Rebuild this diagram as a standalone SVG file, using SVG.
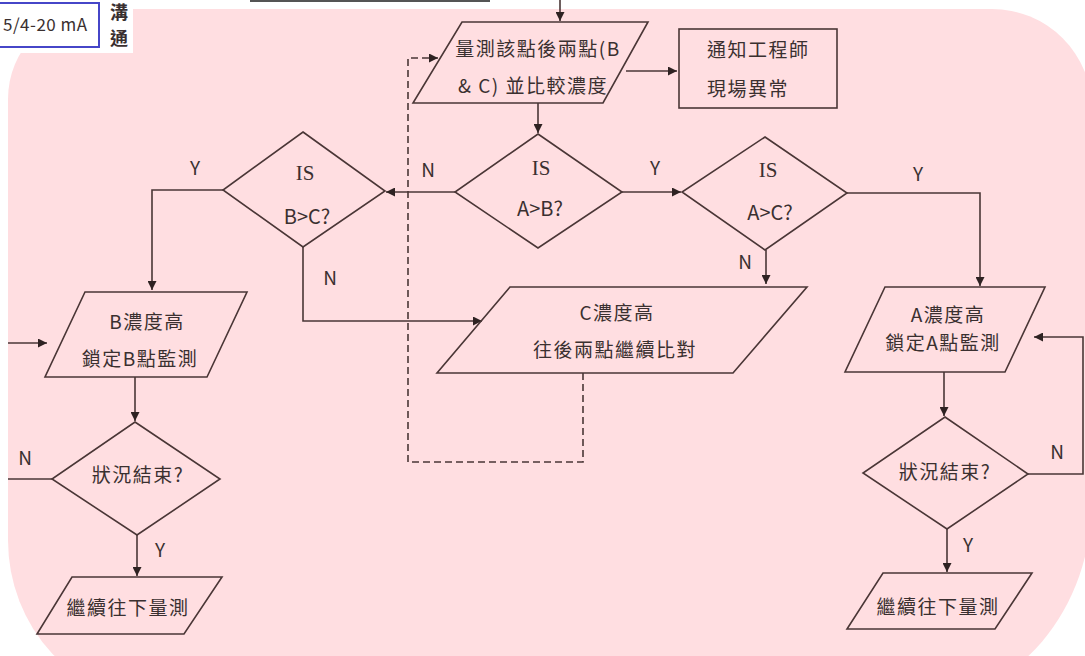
<svg xmlns="http://www.w3.org/2000/svg" width="1085" height="656" viewBox="0 0 1085 656">
<defs>
<style>
.sh{fill:none;stroke:#4a3636;stroke-width:1.6}
.ln{fill:none;stroke:#4a3636;stroke-width:1.6}
.dash{stroke-dasharray:7,4}
.t{font-family:"Noto Sans CJK TC","Noto Sans CJK SC",sans-serif;font-size:19px;letter-spacing:1.5px;fill:#3a3030;text-anchor:middle}
.tl{text-anchor:start}
.lb{font-family:"Noto Sans CJK TC","Noto Sans",sans-serif;font-size:19px;fill:#3a3030;text-anchor:middle}
.is{font-family:"Liberation Serif",serif;font-size:21px;fill:#3a3030;text-anchor:middle}
</style>
<marker id="ah" viewBox="0 0 10 10" refX="10" refY="5" markerWidth="10" markerHeight="9" markerUnits="userSpaceOnUse" orient="auto">
<path d="M0,0 L10,5 L0,10 Z" fill="#2e2222"/>
</marker>
</defs>
<rect x="0" y="0" width="1085" height="656" fill="#ffffff"/>
<path d="M8,99 A90,90 0 0 1 98,9 L992,9 A100,100 0 0 1 1092,109 L1092,500 A170,200 0 0 1 922,700 L158,700 A150,160 0 0 1 8,540 Z" fill="#ffdee1"/>
<rect x="0" y="0" width="133" height="53" fill="#ffffff"/>
<g id="top-box">
<rect x="-3" y="3" width="102" height="44" fill="#ffffff" stroke="#4646c8" stroke-width="2"/>
<text x="3" y="31" style="font-family:'Noto Sans CJK TC','Noto Sans',sans-serif;font-size:17px;letter-spacing:0.5px;fill:#3a3030">5/4-20 mA</text>
<text x="119" y="19" class="lb" style="font-size:18px;font-weight:bold">溝</text>
<text x="119" y="45" class="lb" style="font-size:18px;font-weight:bold">通</text>
</g>
<line x1="250" y1="1" x2="490" y2="1" stroke="#555" stroke-width="2"/>
<g id="connectors">
<path class="ln" d="M560,0 V21" marker-end="url(#ah)"/>
<path class="ln" d="M626,71 H677" marker-end="url(#ah)"/>
<path class="ln" d="M538,103 V133" marker-end="url(#ah)"/>
<path class="ln" d="M622,192 H681" marker-end="url(#ah)"/>
<path class="ln" d="M455,192 H386" marker-end="url(#ah)"/>
<path class="ln" d="M223,190 H152 V290" marker-end="url(#ah)"/>
<path class="ln" d="M303,247 V321 H482" marker-end="url(#ah)"/>
<path class="ln" d="M847,193 H980 V286" marker-end="url(#ah)"/>
<path class="ln" d="M766,250 V284" marker-end="url(#ah)"/>
<path class="ln dash" d="M583,373 V462 H408 V58 H438" marker-end="url(#ah)"/>
<path class="ln" d="M8,343 H47" marker-end="url(#ah)"/>
<path class="ln" d="M135,377 V421" marker-end="url(#ah)"/>
<path class="ln" d="M52,479 H8"/>
<path class="ln" d="M137,535 V576" marker-end="url(#ah)"/>
<path class="ln" d="M944,372 V416" marker-end="url(#ah)"/>
<path class="ln" d="M1028,474 H1083 V337 H1034" marker-end="url(#ah)"/>
<path class="ln" d="M947,529 V572" marker-end="url(#ah)"/>
<text x="428" y="177" class="lb">N</text>
<text x="655" y="175" class="lb">Y</text>
<text x="195" y="175" class="lb">Y</text>
<text x="330" y="285" class="lb">N</text>
<text x="918" y="181" class="lb">Y</text>
<text x="745" y="269" class="lb">N</text>
<text x="25" y="465" class="lb">N</text>
<text x="160" y="557" class="lb">Y</text>
<text x="1057" y="459" class="lb">N</text>
<text x="968" y="552" class="lb">Y</text>
</g>
<g id="measure">
<polygon class="sh" points="462,22 648,22 603,103 413,103"/>
<text x="538" y="56" class="t">量測該點後兩點(B</text>
<text x="533" y="93" class="t">&amp; C) 並比較濃度</text>
</g>
<g id="notify">
<rect class="sh" x="679" y="29" width="158" height="79"/>
<text x="707" y="57" class="t tl">通知工程師</text>
<text x="707" y="96" class="t tl">現場異常</text>
</g>
<g id="is-a-b">
<polygon class="sh" points="538,134 622,192 538,248 455,192"/>
<text x="541" y="175" class="is">IS</text>
<text x="540" y="216" class="lb" style="font-size:20px">A&gt;B?</text>
</g>
<g id="is-a-c">
<polygon class="sh" points="765,137 847,193 765,250 682,192"/>
<text x="768" y="177" class="is">IS</text>
<text x="770" y="220" class="lb" style="font-size:20px">A&gt;C?</text>
</g>
<g id="is-b-c">
<polygon class="sh" points="303,132 385,191 303,247 223,190"/>
<text x="305" y="180" class="is">IS</text>
<text x="307" y="224" class="lb" style="font-size:20px">B&gt;C?</text>
</g>
<g id="b-high">
<polygon class="sh" points="85,292 247,292 207,377 45,377"/>
<text x="147" y="329" class="t">B濃度高</text>
<text x="140" y="366" class="t">鎖定B點監測</text>
</g>
<g id="c-high">
<polygon class="sh" points="510,287 807,287 733,373 437,373"/>
<text x="617" y="320" class="t">C濃度高</text>
<text x="615" y="357" class="t">往後兩點繼續比對</text>
</g>
<g id="a-high">
<polygon class="sh" points="885,287 1045,287 1005,372 845,372"/>
<text x="948" y="322" class="t">A濃度高</text>
<text x="943" y="350" class="t">鎖定A點監測</text>
</g>
<g id="end-left">
<polygon class="sh" points="135,422 220,479 137,535 52,479"/>
<text x="138" y="482" class="t">狀況結束?</text>
</g>
<g id="end-right">
<polygon class="sh" points="945,417 1028,474 947,529 863,473"/>
<text x="945" y="479" class="t">狀況結束?</text>
</g>
<g id="cont-left">
<polygon class="sh" points="72,577 222,577 184,634 37,634"/>
<text x="128" y="615" class="t">繼續往下量測</text>
</g>
<g id="cont-right">
<polygon class="sh" points="883,573 1032,573 995,629 847,629"/>
<text x="938" y="614" class="t">繼續往下量測</text>
</g>
</svg>
